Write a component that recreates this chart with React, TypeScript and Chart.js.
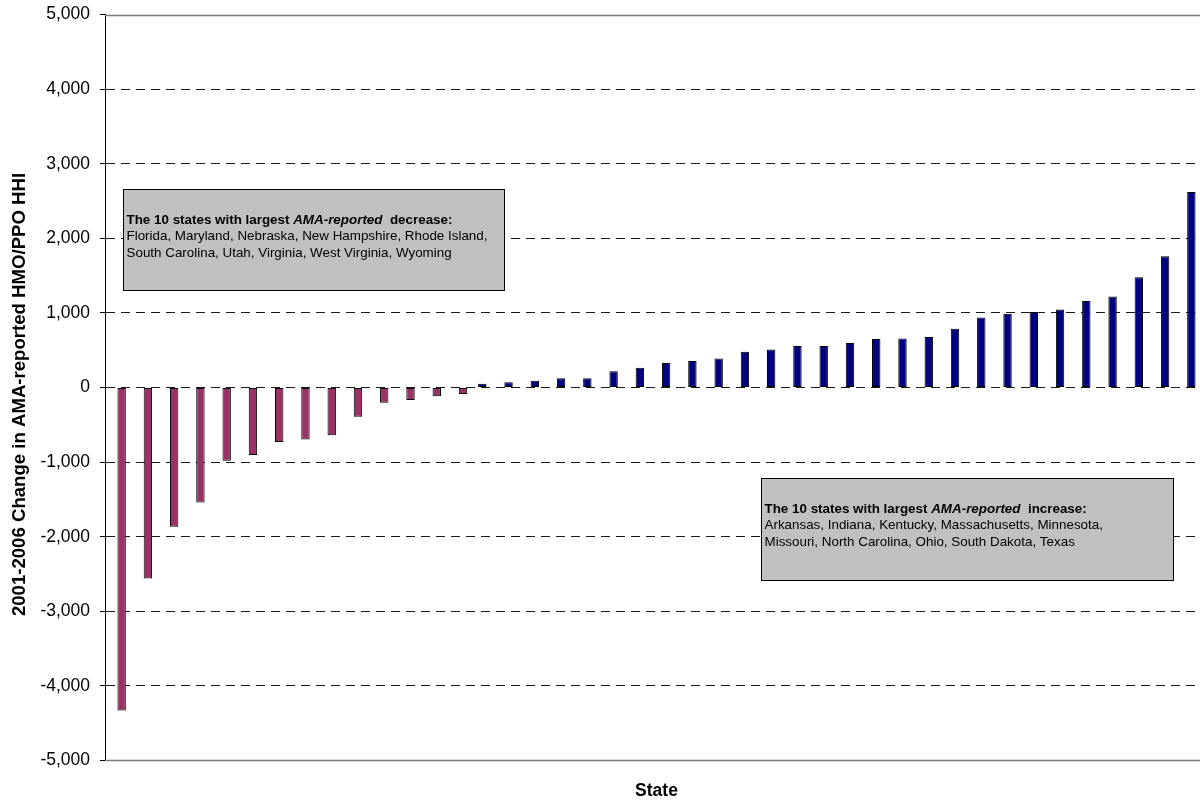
import { useEffect, useRef } from "react";
import { Chart, registerables } from "chart.js";

Chart.register(...registerables);

// One slot per state, ordered from largest decrease to largest increase.
const stateSlots = [
  "1", "2", "3", "4", "5", "6", "7", "8", "9", "10", "11", "12", "13", "14",
  "15", "16", "17", "18", "19", "20", "21", "22", "23", "24", "25", "26", "27", "28",
  "29", "30", "31", "32", "33", "34", "35", "36", "37", "38", "39", "40", "41", "42",
];

// HHI change, states whose index fell (2001-2006)
const decreaseValues = [
  -4330, -2560, -1866, -1540, -982, -906, -732, -696, -639, -393, -206, -166, -116, -86,
];

// HHI change, states whose index rose (2001-2006)
const increaseValues = [
  50, 72, 90, 125, 125, 219, 264, 327, 354, 390, 479, 510, 555, 555, 595, 649, 658, 676,
  789, 940, 990, 1012, 1044, 1160, 1219, 1478, 1761, 2621,
];

const yMin = -5000;
const yMax = 5000;
const yStep = 1000;

const yAxisTitle = "2001-2006 Change in AMA-reported HMO/PPO HHI";
const xAxisTitle = "State";

const decreaseHeading = [
  { text: "The 10 states with largest ", italic: false },
  { text: "AMA-reported", italic: true },
  { text: "  decrease:", italic: false },
];
const decreaseStates = [
  "Florida, Maryland, Nebraska, New Hampshire, Rhode Island,",
  "South Carolina, Utah, Virginia, West Virginia, Wyoming",
];

const increaseHeading = [
  { text: "The 10 states with largest ", italic: false },
  { text: "AMA-reported", italic: true },
  { text: "  increase:", italic: false },
];
const increaseStates = [
  "Arkansas, Indiana, Kentucky, Massachusetts, Minnesota,",
  "Missouri, North Carolina, Ohio, South Dakota, Texas",
];

// Note boxes, anchored in axis units: [slot from, slot to, value top, value bottom]
const decreaseBoxSpan = [0.18, 14.7, 2660, 1310];
const increaseBoxSpan = [24.48, 40.16, -1215, -2578];

const FONT = "'Liberation Sans', Arial, Helvetica, sans-serif";

type HeadPart = { text: string; italic: boolean };

function drawNote(
  chart: any,
  span: number[],
  heading: HeadPart[],
  lines: string[]
) {
  const { ctx } = chart;
  const x = chart.scales.x;
  const y = chart.scales.y;
  const left = Math.round(x.getPixelForValue(span[0])) + 0.5;
  const right = Math.round(x.getPixelForValue(span[1])) + 0.5;
  const top = Math.round(y.getPixelForValue(span[2])) + 0.5;
  const bottom = Math.round(y.getPixelForValue(span[3])) + 0.5;

  ctx.save();
  ctx.fillStyle = "#C0C0C0";
  ctx.fillRect(left, top, right - left, bottom - top);
  ctx.strokeStyle = "#000000";
  ctx.lineWidth = 1;
  ctx.strokeRect(left, top, right - left, bottom - top);

  ctx.fillStyle = "#000000";
  ctx.textAlign = "left";
  ctx.textBaseline = "alphabetic";
  const size = 13.4;
  const lineGap = 16.7;
  const tx = left + 3;
  let ty = top + 34;

  let cx = tx;
  for (const part of heading) {
    ctx.font = `${part.italic ? "italic " : ""}bold ${size}px ${FONT}`;
    ctx.fillText(part.text, cx, ty);
    cx += ctx.measureText(part.text).width;
  }
  ctx.font = `${size}px ${FONT}`;
  for (const line of lines) {
    ty += lineGap;
    ctx.fillText(line, tx, ty);
  }
  ctx.restore();
}

const chartDecorations = {
  id: "chartDecorations",
  beforeDatasetsDraw(chart: any) {
    // plot-area frame along the top and bottom edges
    const { ctx, chartArea } = chart;
    ctx.save();
    ctx.strokeStyle = "#7a7a7a";
    ctx.lineWidth = 1.5;
    ctx.setLineDash([]);
    const yTop = Math.round(chartArea.top) + 0.5;
    const yBot = Math.round(chartArea.bottom) - 0.5;
    ctx.beginPath();
    ctx.moveTo(chartArea.left, yTop);
    ctx.lineTo(chartArea.right, yTop);
    ctx.moveTo(chartArea.left, yBot);
    ctx.lineTo(chartArea.right, yBot);
    ctx.stroke();
    ctx.restore();
  },
  afterDraw(chart: any) {
    const { ctx, chartArea } = chart;
    drawNote(chart, decreaseBoxSpan, decreaseHeading, decreaseStates);
    drawNote(chart, increaseBoxSpan, increaseHeading, increaseStates);

    // vertical axis title
    ctx.save();
    ctx.translate(19.5, (chartArea.top + chartArea.bottom) / 2 + 7);
    ctx.rotate(-Math.PI / 2);
    ctx.font = `bold 18.6px ${FONT}`;
    ctx.fillStyle = "#000000";
    ctx.textAlign = "center";
    ctx.textBaseline = "middle";
    ctx.fillText(yAxisTitle, 0, 0);
    ctx.restore();
  },
};

export default function App() {
  const canvasRef = useRef<HTMLCanvasElement | null>(null);

  useEffect(() => {
    document.body.style.margin = "0";
    const canvas = canvasRef.current;
    if (!canvas) return;

    const negSeries = [
      ...decreaseValues,
      ...increaseValues.map(() => null),
    ];
    const posSeries = [
      ...decreaseValues.map(() => null),
      ...increaseValues,
    ];

    const chart = new Chart(canvas, {
      type: "bar",
      data: {
        labels: stateSlots,
        datasets: [
          {
            label: "Increase",
            data: posSeries,
            backgroundColor: "#000080",
            borderColor: "#000000",
            borderWidth: 1,
            borderSkipped: false,
            categoryPercentage: 0.5333,
            barPercentage: 1.2,
          },
          {
            label: "Decrease",
            data: negSeries,
            backgroundColor: "#993366",
            borderColor: "#000000",
            borderWidth: 1,
            borderSkipped: false,
            categoryPercentage: 0.5333,
            barPercentage: 1.2,
          },
        ],
      },
      options: {
        responsive: false,
        animation: false,
        devicePixelRatio: 1,
        layout: { padding: { top: 14.5, right: 8, bottom: 0, left: 0 } },
        plugins: {
          legend: { display: false },
          tooltip: { enabled: false },
        },
        scales: {
          x: {
            type: "category",
            offset: true,
            grid: { display: false },
            border: { display: false },
            ticks: { display: false },
            title: {
              display: true,
              text: xAxisTitle,
              color: "#000000",
              font: { family: FONT, size: 17.5, weight: "bold", lineHeight: 1 },
              padding: { top: 0, bottom: 1 },
            },
            afterFit(scale: any) {
              scale.height = 40.5;
            },
          },
          y: {
            min: yMin,
            max: yMax,
            afterFit(scale: any) {
              scale.width = 105;
              scale.paddingTop = 0;
              scale.paddingBottom = 0;
            },
            ticks: {
              stepSize: yStep,
              color: "#000000",
              padding: 10,
              font: { family: FONT, size: 17.5 },
              callback: (v: any) => Number(v).toLocaleString("en-US"),
            },
            grid: {
              color: (c: any) =>
                c.tick && (c.tick.value === yMin || c.tick.value === yMax)
                  ? "rgba(0,0,0,0)"
                  : "#1a1a1a",
              lineWidth: 1,
              tickLength: 5,
              tickColor: "#000000",
              tickBorderDash: [],
            },
            border: {
              display: true,
              color: "#000000",
              width: 1,
              dash: [9, 6],
            },
          },
        },
      },
      plugins: [chartDecorations],
    });

    return () => chart.destroy();
  }, []);

  return (
    <div style={{ width: 1200, height: 801, overflow: "hidden", background: "#ffffff" }}>
      <canvas
        ref={canvasRef}
        width={1216}
        height={801}
        style={{ display: "block", width: 1216, height: 801 }}
      />
    </div>
  );
}
